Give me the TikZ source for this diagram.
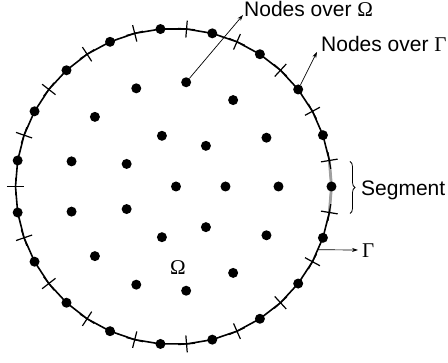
\documentclass[tikz,border=0pt]{standalone}
\usepackage{fontspec}
\setmainfont{Liberation Sans}
\newfontfamily\grk{Liberation Serif}
\usetikzlibrary{arrows.meta,calc,decorations.pathreplacing}

\begin{document}
\begin{tikzpicture}[x=1pt, y=1pt,
  dot/.style={circle, fill=black, inner sep=0pt, minimum size=10pt},
  tick/.style={black, line width=1.2pt},
  pointer/.style={black, line width=0.7pt, -{Stealth[length=6pt,width=4pt]}},
  lbl/.style={inner sep=0pt, font=\fontsize{21}{25}\selectfont}]

\useasboundingbox (-173.5,-176.5) rectangle (274.5,186.5);

\draw[black, line width=1.6pt] (180:158) \foreach \k in {1,...,37} { -- ({180+\k*360/38}:158) } -- cycle;

\foreach \k in {0,...,18}
  \coordinate (x\k) at ({180+\k*360/19}:158);

\draw[gray!75, line width=2.8pt] (x9) -- (0:158) -- (x10);

\foreach \k [evaluate=\k as \t using 180+\k*360/19] in {0,...,18}
  \draw[tick] ($(x\k)+(\t:8.5)$) -- ($(x\k)+(\t+180:8.5)$)
              ($(x\k)+(\t+90:8.5)$) -- ($(x\k)+(\t-90:8.5)$);

\foreach \k in {0,...,18}
  \node[dot] (b\k) at ({180+(\k+0.5)*360/19}:158) {};

\node[dot] (c) at (2.5,0) {};
\foreach \k in {0,...,6}
  \node[dot] (r\k) at ({\k*360/7}:52) {};
\foreach \k in {0,...,12}
  \node[dot] (s\k) at ({\k*360/13}:105) {};

\node[lbl, anchor=base west] at (70.5,169.5) (lomega) {Nodes over {\grk Ω}};
\node[lbl, anchor=base west] at (147.5,134.5) (lgamma) {Nodes over {\grk Γ}};
\node[lbl, anchor=base west] at (187.5,-9.5) (lseg) {Segment};
\node[lbl, anchor=base west] at (188.5,-71.5) (lbnd) {\grk Γ};
\node[lbl, anchor=base] at (4.5,-88.5) (ldom) {\grk Ω};

\coordinate (tipo) at (69.5,171.5);
\coordinate (tipg) at (143.5,134.5);
\coordinate (from) at ($(b8)!0.5!(x8)$);
\coordinate (tipb) at (184.5,-63.5);

\draw[pointer] (s3) -- (tipo);
\draw[pointer] (b11) -- (tipg);
\draw[pointer] (from) -- (tipb);

\draw[black, line width=0.8pt, decorate, decoration={brace, amplitude=5pt}]
  (176.5,25) -- (176.5,-27);

\end{tikzpicture}
\end{document}
